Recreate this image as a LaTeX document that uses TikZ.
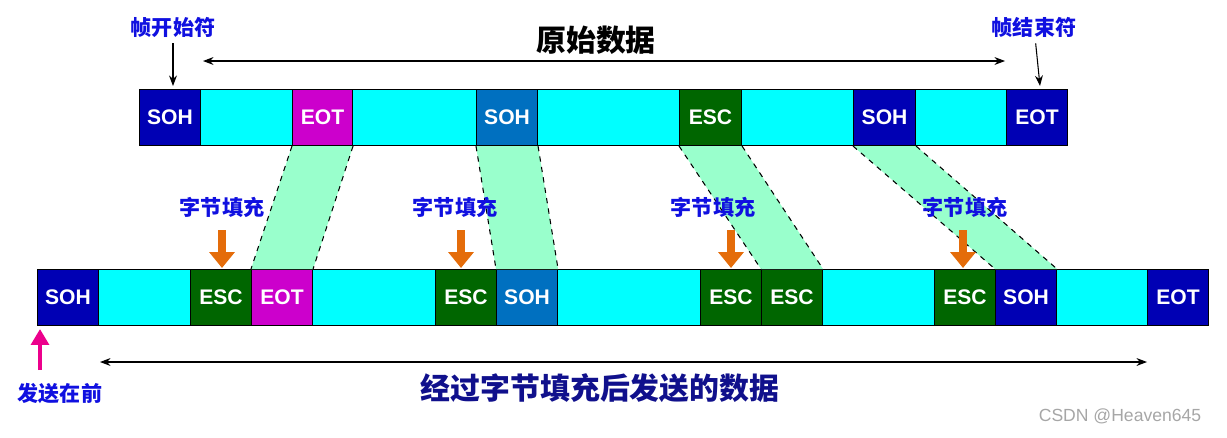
\documentclass[tikz,border=0pt]{standalone}
\usepackage{fontspec}
\setmainfont{Liberation Sans}
\newfontfamily\cjk{Noto Sans CJK SC}
\usetikzlibrary{arrows.meta}
\definecolor{dblue}{HTML}{0000B4}
\definecolor{mblue}{HTML}{0070C0}
\definecolor{mag}{HTML}{CC00CC}
\definecolor{dgreen}{HTML}{006600}
\definecolor{cyn}{HTML}{00FFFF}
\definecolor{lgreen}{HTML}{99FFCC}
\definecolor{lblue}{HTML}{1010E0}
\definecolor{navy}{HTML}{10108C}
\definecolor{orng}{HTML}{E46C0A}
\begin{document}
\begin{tikzpicture}[x=0.02cm,y=-0.02cm,
  cell/.style={draw=black,line width=0.6pt,anchor=north west,inner sep=0,minimum height=1.12cm,text=white,font=\bfseries\fontsize{12}{12}\selectfont},
  lab/.style={text=lblue,font=\cjk\bfseries\fontsize{12}{12}\selectfont},
  trap/.style={fill=lgreen,draw=black,dashed,line width=0.6pt},
  oarr/.style={draw=orng,line width=4pt,-{Triangle[width=14pt,length=9pt]}},
  darr/.style={{Stealth[length=6pt]}-{Stealth[length=6pt]},line width=0.6pt}]
\useasboundingbox (0,0) rectangle (1227,437);
\newcommand\cell[5]{\node[cell,fill=#4,minimum width={(#3-#2)*0.02cm}] (#1) at (#2,#5) {#4x};}
% top row
\foreach \n/\a/\b/\c/\t in {t1/139/200/dblue/SOH,t2/200/292/cyn/,t3/292/352/mag/EOT,t4/352/476/cyn/,t5/476/537/mblue/SOH,t6/537/679/cyn/,t7/679/741/dgreen/ESC,t8/741/853/cyn/,t9/853/915/dblue/SOH,t10/915/1006/cyn/,t11/1006/1067/dblue/EOT}
  {\node[cell,fill=\c,minimum width={(\b-\a)*0.02cm}] (\n) at (\a,89) {\t};}
% bottom row
\foreach \n/\a/\b/\c/\t in {b1/37/98/dblue/SOH,b2/98/190/cyn/,b3/190/251/dgreen/ESC,b4/251/312/mag/EOT,b5/312/435/cyn/,b6/435/496/dgreen/ESC,b7/496/557/mblue/SOH,b8/557/700/cyn/,b9/700/761/dgreen/ESC,b10/761/822/dgreen/ESC,b11/822/934/cyn/,b12/934/995/dgreen/ESC,b13/995/1056/dblue/SOH,b14/1056/1147/cyn/,b15/1147/1208/dblue/EOT}
  {\node[cell,fill=\c,minimum width={(\b-\a)*0.02cm}] (\n) at (\a,269) {\t};}
% trapezoids
\foreach \u/\l in {t3/b4,t5/b7,t7/b10,t9/b13}
  {\fill[lgreen] (\u.south west) -- (\u.south east) -- (\l.north east) -- (\l.north west) -- cycle;
   \draw[dashed,line width=0.6pt] (\u.south west) -- (\l.north west) (\u.south east) -- (\l.north east);}
% stuffing labels and arrows
\foreach \i/\x/\ax in {1/222/222,2/455/461,3/713/731,4/965/963}
  {\node[lab] (s\i) at (\x,207) {字节填充};
   \coordinate (sa\i) at (\ax,230); \coordinate (se\i) at (\ax,268);
   \draw[oarr] (sa\i) -- (se\i);}
% top annotations
\node[font=\cjk\bfseries\fontsize{17}{17}\selectfont] (title) at (596,40) {原始数据};
\coordinate (ta) at (203,61); \coordinate (tb) at (1005,61);
\draw[darr] (ta) -- (tb);
\node[lab] (st) at (173,27) {帧开始符};
\node[lab] (en) at (1034,27) {帧结束符};
\coordinate (sta) at (173,86); \coordinate (ena) at (1040,86);
\draw[-{Stealth[length=6pt]},line width=0.6pt] (st) -- (sta);
\draw[-{Stealth[length=6pt]},line width=0.6pt] (en) -- (ena);
% bottom annotations
\coordinate (ba) at (100,362); \coordinate (bb) at (1147,362);
\draw[darr] (ba) -- (bb);
\node[text=navy,font=\cjk\bfseries\fontsize{17}{17}\selectfont] (btitle) at (600,388) {经过字节填充后发送的数据};
\coordinate (ma) at (40,370); \coordinate (mb) at (40,329);
\draw[draw=magenta,line width=2.5pt,-{Triangle[width=10pt,length=9pt]}] (ma) -- (mb);
\node[lab] (fs) at (60,393) {发送在前};
\node[text=gray!70,font=\fontsize{10}{10}\selectfont] (wm) at (1120,416) {CSDN @Heaven645};
\end{tikzpicture}
\end{document}
